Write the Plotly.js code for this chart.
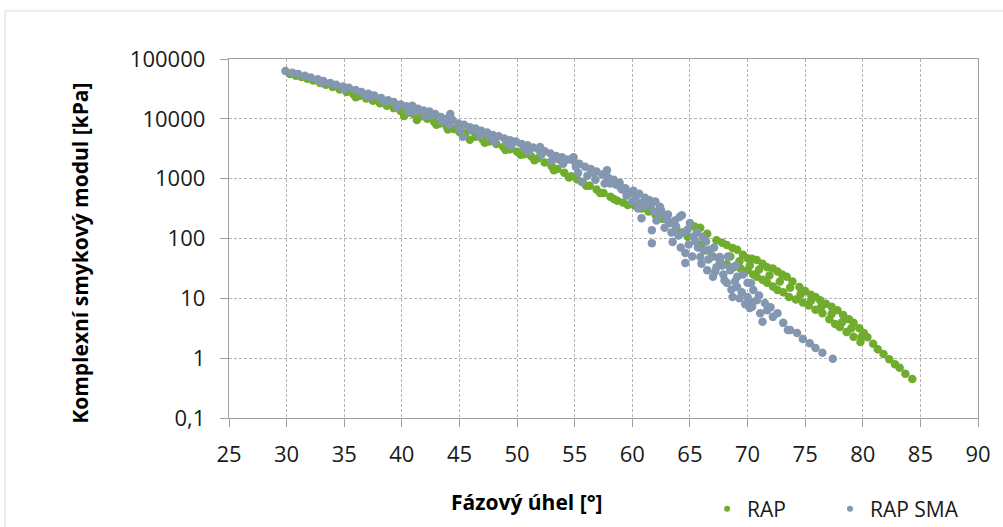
<!DOCTYPE html>
<html>
<head>
<meta charset="utf-8">
<script src="https://cdn.plot.ly/plotly-3.0.1.min.js"></script>
<style>
html,body{margin:0;padding:0;background:#fff;overflow:hidden;}
#chart{width:1003px;height:527px;}
</style>
</head>
<body>
<div id="chart"></div>
<script>
// Phase angle [°] and complex shear modulus [kPa] — RAP
var xRAP = [30.3,30.8,31.3,31.8,32.3,32.9,33.4,34.0,34.6,35.2,35.8,36.3,36.9,37.5,38.1,38.7,39.3,39.9,40.5,41.0,41.3,41.7,42.2,42.8,43.3,43.9,44.5,45.0,45.5,45.9,46.4,47.0,47.6,48.2,48.8,49.4,50.0,50.6,51.2,51.8,52.4,53.0,53.5,54.1,54.7,55.2,55.7,56.3,56.9,57.5,58.1,58.7,59.2,59.6,60.2,60.8,61.4,62.0,62.6,63.2,63.8,64.3,64.8,65.4,65.9,66.5,67.3,67.8,68.2,68.7,69.1,69.6,70.0,70.4,70.8,71.3,71.7,72.2,72.6,73.0,73.4,73.9,74.5,75.0,75.5,75.9,76.3,76.8,77.3,77.8,78.3,78.8,79.2,79.7,80.1,80.4,80.9,81.3,81.8,82.3,82.8,83.2,83.7,84.3,
  66.0,66.5,67.0,67.6,68.2,68.8,69.4,70.0,70.5,70.8,71.3,71.7,72.2,72.6,73.1,73.6,74.2,74.8,75.3,75.9,76.5,77.1,77.6,78.0,78.6,79.2,79.8,
  36.0,40.2,43.0,44.0,47.2,49.0,50.3,51.5,53.2,54.5,56.0,57.2,58.4,
  68.5,69.3,70.2,71.0,71.9,72.8,73.7,74.6,75.5,76.4,77.3,78.2,79.0,79.9];
var gRAP = [56200,52500,50100,46800,43700,39800,37200,33900,30900,28200,25700,24000,21900,20000,18200,16600,15100,13500,12600,12000,9550,11000,10000,8910,8320,7410,6760,6030,5750,4470,5010,4570,4170,3800,3390,3090,2820,2570,2400,2190,1860,1620,1450,1260,1100,977,871,759,661,575,501,427,398,363,355,316,282,251,214,182,151,126,107,158,151,120,93.3,85.1,77.6,69.2,64.6,53.7,46.8,45.7,43.7,38.0,33.1,31.6,28.2,25.1,22.9,19.1,15.5,13.2,11.5,10.5,9.33,8.13,7.24,6.31,5.25,4.47,3.89,3.16,2.63,2.24,1.74,1.41,1.17,0.955,0.794,0.692,0.550,0.447,
  79.4,63.1,50.1,41.7,37.2,33.1,31.6,29.5,25.1,22.9,20.4,18.2,15.8,13.8,12.6,10.5,9.55,8.51,7.59,6.46,5.62,4.47,3.72,3.31,2.75,2.29,1.86,
  22900,11200,7940,6610,3980,3020,2510,2040,1380,1050,759,575,457,
  50.1,41.7,35.5,30.2,24.0,19.1,15.1,11.7,9.12,7.24,5.50,3.98,3.16,2.29];

// RAP SMA
var xSMA = [29.9,30.5,31.0,31.6,32.1,32.7,33.2,33.8,34.3,34.9,35.4,36.0,36.5,37.1,37.6,38.2,38.8,39.3,39.9,40.4,40.9,41.4,41.9,42.4,42.9,43.4,43.9,44.4,44.9,45.3,45.4,45.9,46.4,46.9,47.4,47.9,48.4,48.9,49.4,49.9,50.4,50.9,51.4,51.9,52.4,52.9,53.4,53.9,54.4,54.9,55.4,55.6,55.9,56.4,56.9,57.4,57.9,58.4,58.9,59.4,59.8,60.3,60.7,61.5,62.4,60.8,61.7,61.7,63.3,64.1,64.3,63.5,64.6,64.6,65.0,65.3,65.9,66.1,66.5,66.7,67.0,67.6,67.6,68.2,68.5,68.5,68.7,69.1,69.1,70.0,70.0,70.4,70.5,70.8,71.1,71.3,71.7,72.2,72.6,73.1,73.5,73.7,74.3,74.8,75.4,75.9,76.5,77.4,
  33.0,36.8,39.6,41.1,42.6,44.1,46.1,47.6,49.1,50.6,52.1,53.6,55.1,56.6,58.1,59.0,
  61.0,61.9,62.6,63.0,63.8,64.5,65.5,66.2,66.9,67.3,67.9,68.9,69.5,70.2,70.2,
  57.7,58.2,58.6,59.1,59.5,60.0,60.5,60.1,60.6,61.1,61.6,62.0,62.1,62.5,62.8,63.1,63.4,63.7,64.0,64.2,64.8,64.9,65.2,65.6,65.7,66.0,66.4,66.6,67.1,67.2,67.8,68.0,68.3,68.6,69.0,69.3,69.6,69.8,70.3,71.0,71.5,72.0,
  55.3,56.1,56.8,57.6,53.0,54.0,54.9,57.8,51.0,52.0,49.5,48.0,46.8,45.0,43.5,44.2,42.0,40.6,38.5,37.2,35.0];
var gSMA = [63100,58900,56200,52500,49000,45700,42700,39800,37200,34700,33100,30200,28200,26300,24500,22400,20400,19100,17400,16200,16600,14800,13800,13200,12000,10700,10000,9550,8320,5010,7940,7240,6920,6310,5890,5370,5130,4680,4370,4170,3800,3630,3310,3020,2880,2630,2400,2290,2090,2000,1780,891,1580,1450,1320,1170,1050,955,851,692,575,501,389,437,339,219,138,83.2,182,229,245,87.1,57.5,38.9,182,107,49.0,107,29.5,64.6,22.9,43.7,49.0,18.2,29.5,33.1,10.5,15.5,22.9,10.5,18.2,7.24,13.8,9.33,5.62,4.07,6.31,4.90,5.62,3.89,2.95,2.95,2.63,2.09,1.78,1.48,1.23,0.977,
  39800,25100,15800,13200,11200,7940,6310,5010,3980,3310,2510,2090,1580,1260,832,708,
  355,282,251,209,158,126,89.1,63.1,50.1,33.1,25.1,19.1,12.6,8.91,6.92,
  1120,891,794,661,525,417,316,631,562,479,355,417,200,295,151,251,126,200,112,70.8,141,79.4,50.1,126,70.8,38.0,89.1,44.7,70.8,28.2,35.5,20.0,50.1,14.1,35.5,10.0,25.1,7.94,17.8,11.2,8.32,7.08,
  1260,1120,955,832,2000,1780,2290,1380,2820,3390,3550,4170,5250,6610,8910,12000,11200,13200,19100,23400,31600];

var seriesNames = ['RAP','RAP SMA'];
var yTickVals = [0.1,1,10,100,1000,10000,100000];
var yTickText = ['0,1','1','10','100','1000','10000','100000'];
var xTitle = 'Fázový úhel [°]';
var yTitle = 'Komplexní smykový modul [kPa]';

var cGreen = '#70ad2c';
var cGrey = '#8497b0';
var fontFam = '"Open Sans", "Noto Sans", sans-serif';

var traces = [
  {x:xRAP, y:gRAP, type:'scatter', mode:'markers', name:seriesNames[0], showlegend:false,
   marker:{color:cGreen, size:8.5}},
  {x:xSMA, y:gSMA, type:'scatter', mode:'markers', name:seriesNames[1], showlegend:false,
   marker:{color:cGrey, size:8.5}},
  {x:[null], y:[null], type:'scatter', mode:'markers', name:seriesNames[0], legend:'legend', marker:{color:cGreen, size:6}},
  {x:[null], y:[null], type:'scatter', mode:'markers', name:seriesNames[1], legend:'legend2', marker:{color:cGrey, size:6}}
];

var axisCommon = {
  showline:true, linecolor:'#a0a0a0', linewidth:1.3, mirror:true,
  showgrid:true, gridcolor:'#b3b3b3', gridwidth:1, griddash:'3px,2px',
  ticks:'outside', ticklen:8, tickcolor:'#a0a0a0', tickwidth:1,
  zeroline:false, tickfont:{family:fontFam, size:22, color:'#1a1a1a'}
};

var legendCommon = {orientation:'h', xref:'container', yref:'container', y:0.034, xanchor:'left', yanchor:'middle',
  font:{family:fontFam, size:21, color:'#1a1a1a'}, bgcolor:'rgba(0,0,0,0)', itemwidth:30};

var layout = {
  width:1003, height:527,
  margin:{l:229, r:25, t:59, b:109, autoexpand:false},
  paper_bgcolor:'#fff', plot_bgcolor:'#fff',
  font:{family:fontFam, color:'#1a1a1a'},
  xaxis: Object.assign({}, axisCommon, {range:[25,90], dtick:5, tick0:25, ticklabelstandoff:8, automargin:false}),
  yaxis: Object.assign({}, axisCommon, {type:'log', range:[-1,5], tickvals:yTickVals, ticktext:yTickText, ticklabelstandoff:10, automargin:false}),
  showlegend:true,
  legend: Object.assign({}, legendCommon, {x:0.705}),
  legend2: Object.assign({}, legendCommon, {x:0.8275}),
  annotations:[
    {text:'<b>'+xTitle+'</b>', xref:'paper', yref:'paper', x:0.398, y:-0.234, xanchor:'center', yanchor:'middle',
     showarrow:false, font:{family:fontFam, size:21, color:'#000'}},
    {text:'<b>'+yTitle+'</b>', xref:'paper', yref:'paper', x:-0.2, y:0.458, xanchor:'center', yanchor:'middle',
     textangle:-90, showarrow:false, font:{family:fontFam, size:21, color:'#000'}}
  ],
  shapes:[
    {type:'rect', xref:'paper', yref:'paper', x0:-0.299, x1:1.2, y0:-0.5, y1:1.134,
     line:{color:'#d9d9d9', width:1}, fillcolor:'rgba(0,0,0,0)', layer:'below'}
  ]
};

Plotly.newPlot('chart', traces, layout, {displayModeBar:false, staticPlot:true});
</script>
</body>
</html>
